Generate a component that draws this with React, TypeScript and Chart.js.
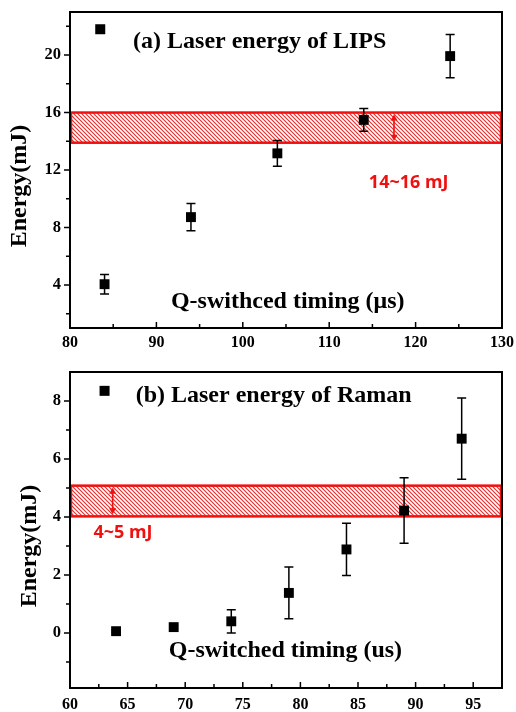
import { useEffect, useRef } from 'react';
import { Chart, registerables } from 'chart.js';

Chart.register(...registerables);

// ---------- Panel (a): LIPS ----------
const timingA = [84, 94, 104, 114, 124];
const energyA = [4.05, 8.72, 13.16, 15.49, 19.93];
const errorA = [0.68, 0.95, 0.9, 0.8, 1.5];
const xTicksA = [80, 85, 90, 95, 100, 105, 110, 115, 120, 125, 130];
const yTicksA = [2, 4, 6, 8, 10, 12, 14, 16, 18, 20, 22];
const bandA = [13.9, 16.0];

// ---------- Panel (b): Raman ----------
const timingB = [64, 69, 74, 79, 84, 89, 94];
const energyB = [0.06, 0.2, 0.4, 1.38, 2.88, 4.22, 6.7];
const errorB = [0.04, 0.06, 0.4, 0.89, 0.9, 1.13, 1.4];
const xTicksB = [60, 62.5, 65, 67.5, 70, 72.5, 75, 77.5, 80, 82.5, 85, 87.5, 90, 92.5, 95];
const yTicksB = [-1, 0, 1, 2, 3, 4, 5, 6, 7, 8];
const bandB = [4.02, 5.08];

const SERIF = "'Liberation Serif', 'Times New Roman', serif";
const SANS = "'Noto Sans', 'Open Sans', sans-serif";
const RED = '#f01010';

type PanelCfg = {
  width: number;
  height: number;
  area: { top: number; bottom: number; left: number; right: number };
  xs: number[];
  ys: number[];
  errs: number[];
  xMin: number;
  xMax: number;
  yMin: number;
  yMax: number;
  xTicks: number[];
  yTicks: number[];
  xMajor: (v: number) => boolean;
  yMajor: (v: number) => boolean;
  band: number[];
  arrowX: number;
  bandLabel: string;
  bandLabelPos: { x: number; y: number };
  legendText: string;
  legendSquare: { x: number; y: number };
  legendTextPos: { x: number; y: number };
  xTitle: string;
  xTitlePos: { x: number; y: number };
  yTitle: string;
  yTitlePos: { x: number; y: number };
  xLabelPad: number;
};

function makePattern(): CanvasPattern | string {
  const p = document.createElement('canvas');
  p.width = 4;
  p.height = 4;
  const g = p.getContext('2d');
  if (!g) return '#f0a0a0';
  g.fillStyle = '#ffffff';
  g.fillRect(0, 0, 4, 4);
  g.strokeStyle = '#e83030';
  g.lineWidth = 1.2;
  g.beginPath();
  g.moveTo(-1, -1);
  g.lineTo(5, 5);
  g.moveTo(-1, 3);
  g.lineTo(1, 5);
  g.moveTo(3, -1);
  g.lineTo(5, 1);
  g.stroke();
  const pat = g.createPattern(p, 'repeat');
  return pat || '#f0a0a0';
}

function makePlugin(cfg: PanelCfg) {
  return {
    id: 'decor',
    beforeDatasetsDraw(chart: any) {
      const { ctx, chartArea } = chart;
      const xs = chart.scales.x;
      const ys = chart.scales.y;
      // band
      const yTop = ys.getPixelForValue(cfg.band[1]);
      const yBot = ys.getPixelForValue(cfg.band[0]);
      ctx.save();
      ctx.fillStyle = makePattern();
      ctx.fillRect(chartArea.left, yTop, chartArea.right - chartArea.left, yBot - yTop);
      ctx.strokeStyle = RED;
      ctx.lineWidth = 2.5;
      ctx.strokeRect(chartArea.left + 1, yTop, chartArea.right - chartArea.left - 2, yBot - yTop);
      // double arrow
      const ax = xs.getPixelForValue(cfg.arrowX);
      const a1 = yTop + 2;
      const a2 = yBot - 2;
      ctx.lineWidth = 1.6;
      ctx.beginPath();
      ctx.moveTo(ax, a1 + 2);
      ctx.lineTo(ax, a2 - 2);
      ctx.stroke();
      ctx.fillStyle = RED;
      ctx.beginPath();
      ctx.moveTo(ax, a1);
      ctx.lineTo(ax - 3.5, a1 + 6);
      ctx.lineTo(ax + 3.5, a1 + 6);
      ctx.closePath();
      ctx.fill();
      ctx.beginPath();
      ctx.moveTo(ax, a2);
      ctx.lineTo(ax - 3.5, a2 - 6);
      ctx.lineTo(ax + 3.5, a2 - 6);
      ctx.closePath();
      ctx.fill();
      // error bars
      ctx.strokeStyle = '#000';
      ctx.lineWidth = 1.5;
      for (let i = 0; i < cfg.xs.length; i++) {
        const px = xs.getPixelForValue(cfg.xs[i]);
        const hi = ys.getPixelForValue(cfg.ys[i] + cfg.errs[i]);
        const lo = ys.getPixelForValue(cfg.ys[i] - cfg.errs[i]);
        ctx.beginPath();
        ctx.moveTo(px, hi);
        ctx.lineTo(px, lo);
        ctx.moveTo(px - 4.5, hi);
        ctx.lineTo(px + 4.5, hi);
        ctx.moveTo(px - 4.5, lo);
        ctx.lineTo(px + 4.5, lo);
        ctx.stroke();
      }
      ctx.restore();
    },
    afterDraw(chart: any) {
      const { ctx, chartArea } = chart;
      const xs = chart.scales.x;
      const ys = chart.scales.y;
      ctx.save();
      // frame
      ctx.strokeStyle = '#000';
      ctx.lineWidth = 2;
      ctx.strokeRect(chartArea.left, chartArea.top, chartArea.right - chartArea.left, chartArea.bottom - chartArea.top);
      // y ticks (outside, left)
      ctx.lineWidth = 1.5;
      ctx.beginPath();
      for (const v of cfg.yTicks) {
        const py = ys.getPixelForValue(v);
        const len = cfg.yMajor(v) ? 6 : 4;
        ctx.moveTo(chartArea.left - len, py);
        ctx.lineTo(chartArea.left, py);
      }
      // x ticks (inside, up)
      for (const v of cfg.xTicks) {
        const px = xs.getPixelForValue(v);
        if (px <= chartArea.left + 1 || px >= chartArea.right - 1) continue;
        const len = cfg.xMajor(v) ? 6 : 4;
        ctx.moveTo(px, chartArea.bottom);
        ctx.lineTo(px, chartArea.bottom - len);
      }
      ctx.stroke();
      // legend
      const lx = xs.getPixelForValue(cfg.legendSquare.x);
      const ly = ys.getPixelForValue(cfg.legendSquare.y);
      ctx.fillStyle = '#000';
      ctx.fillRect(lx - 5, ly - 5, 10, 10);
      ctx.font = `bold 24px ${SERIF}`;
      ctx.textAlign = 'left';
      ctx.textBaseline = 'alphabetic';
      ctx.fillText(cfg.legendText, xs.getPixelForValue(cfg.legendTextPos.x), ys.getPixelForValue(cfg.legendTextPos.y));
      // x title
      ctx.textAlign = 'center';
      ctx.fillText(cfg.xTitle, xs.getPixelForValue(cfg.xTitlePos.x), ys.getPixelForValue(cfg.xTitlePos.y));
      // y title
      ctx.save();
      ctx.translate(cfg.yTitlePos.x, cfg.yTitlePos.y);
      ctx.rotate(-Math.PI / 2);
      ctx.textBaseline = 'middle';
      ctx.fillText(cfg.yTitle, 0, 0);
      ctx.restore();
      // band label
      ctx.fillStyle = RED;
      ctx.font = `bold 18px ${SANS}`;
      ctx.textAlign = 'center';
      ctx.textBaseline = 'middle';
      ctx.fillText(cfg.bandLabel, xs.getPixelForValue(cfg.bandLabelPos.x), ys.getPixelForValue(cfg.bandLabelPos.y));
      ctx.restore();
    },
  };
}

function zeroPad(s: any) {
  s.paddingTop = 0;
  s.paddingBottom = 0;
  s.paddingLeft = 0;
  s.paddingRight = 0;
}

function Panel({ cfg }: { cfg: PanelCfg }) {
  const ref = useRef<HTMLCanvasElement | null>(null);
  useEffect(() => {
    if (!ref.current) return;
    const points = cfg.xs.map((x, i) => ({ x, y: cfg.ys[i] }));
    const chart = new Chart(ref.current, {
      type: 'scatter',
      data: {
        datasets: [
          {
            data: points,
            pointStyle: 'rect',
            pointRadius: 7,
            pointHoverRadius: 7,
            backgroundColor: '#000',
            borderColor: '#000',
            borderWidth: 0,
            showLine: false,
          },
        ],
      },
      options: {
        responsive: false,
        animation: false,
        devicePixelRatio: 1,
        layout: {
          padding: { top: cfg.area.top, right: cfg.width - cfg.area.right, left: 0, bottom: 0 },
        },
        plugins: { legend: { display: false }, tooltip: { enabled: false }, title: { display: false } },
        scales: {
          x: {
            type: 'linear',
            min: cfg.xMin,
            max: cfg.xMax,
            afterBuildTicks: (s: any) => {
              s.ticks = cfg.xTicks.map((v) => ({ value: v }));
            },
            afterFit: (s: any) => {
              s.height = cfg.height - cfg.area.bottom;
              zeroPad(s);
            },
            grid: { display: false, drawTicks: false },
            border: { display: false },
            ticks: {
              autoSkip: false,
              maxRotation: 0,
              padding: cfg.xLabelPad,
              color: '#000',
              font: { family: SERIF, size: 16, weight: 'bold' },
              callback: (v: any) => (cfg.xMajor(Number(v)) ? String(v) : ''),
            },
          },
          y: {
            type: 'linear',
            min: cfg.yMin,
            max: cfg.yMax,
            afterBuildTicks: (s: any) => {
              s.ticks = cfg.yTicks.map((v) => ({ value: v }));
            },
            afterFit: (s: any) => {
              s.width = cfg.area.left;
              zeroPad(s);
            },
            grid: { display: false, drawTicks: false },
            border: { display: false },
            ticks: {
              autoSkip: false,
              padding: 9,
              color: '#000',
              font: { family: SERIF, size: 16.5, weight: 'bold' },
              callback: (v: any) => (cfg.yMajor(Number(v)) ? String(v) : ''),
            },
          },
        },
      },
      plugins: [makePlugin(cfg)],
    } as any);
    return () => chart.destroy();
  }, [cfg]);
  return (
    <canvas
      ref={ref}
      width={cfg.width}
      height={cfg.height}
      style={{ display: 'block', width: cfg.width, height: cfg.height }}
    />
  );
}

const cfgA: PanelCfg = {
  width: 516,
  height: 350,
  area: { top: 12, bottom: 328, left: 70, right: 502 },
  xs: timingA,
  ys: energyA,
  errs: errorA,
  xMin: 80,
  xMax: 130,
  yMin: 1,
  yMax: 23,
  xTicks: xTicksA,
  yTicks: yTicksA,
  xMajor: (v) => v % 10 === 0,
  yMajor: (v) => v % 4 === 0,
  band: bandA,
  arrowX: 117.5,
  bandLabel: '14~16 mJ',
  bandLabelPos: { x: 119.2, y: 11.1 },
  legendText: '(a) Laser energy of LIPS',
  legendSquare: { x: 83.5, y: 21.8 },
  legendTextPos: { x: 87.3, y: 20.5 },
  xTitle: 'Q-swithced timing (\u03bcs)',
  xTitlePos: { x: 105.2, y: 2.4 },
  yTitle: 'Energy(mJ)',
  yTitlePos: { x: 20, y: 186 },
  xLabelPad: 5,
};

const cfgB: PanelCfg = {
  width: 516,
  height: 362,
  area: { top: 22, bottom: 338, left: 70, right: 502 },
  xs: timingB,
  ys: energyB,
  errs: errorB,
  xMin: 60,
  xMax: 97.5,
  yMin: -1.9,
  yMax: 9,
  xTicks: xTicksB,
  yTicks: yTicksB,
  xMajor: (v) => v % 5 === 0,
  yMajor: (v) => v % 2 === 0 && v >= 0,
  band: bandB,
  arrowX: 63.7,
  bandLabel: '4~5 mJ',
  bandLabelPos: { x: 64.6, y: 3.44 },
  legendText: '(b) Laser energy of Raman',
  legendSquare: { x: 63, y: 8.35 },
  legendTextPos: { x: 65.7, y: 7.97 },
  xTitle: 'Q-switched timing (us)',
  xTitlePos: { x: 78.7, y: -0.84 },
  yTitle: 'Energy(mJ)',
  yTitlePos: { x: 29.5, y: 196 },
  xLabelPad: 7,
};

export default function App() {
  useEffect(() => {
    document.body.style.margin = '0';
    document.body.style.background = '#fff';
  }, []);
  return (
    <div style={{ width: 516, height: 712, position: 'relative', background: '#fff' }}>
      <Panel cfg={cfgA} />
      <Panel cfg={cfgB} />
    </div>
  );
}
